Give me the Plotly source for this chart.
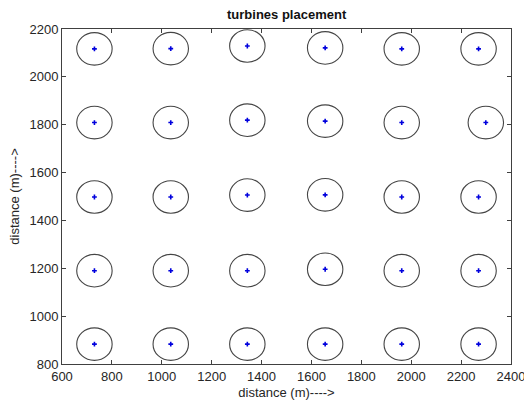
import plotly.graph_objects as go

# Turbine coordinates (m), listed row by row from top to bottom
turbine_x = [
    730, 1036, 1343, 1655, 1962, 2270,
    730, 1036, 1343, 1655, 1962, 2299,
    730, 1036, 1343, 1655, 1962, 2270,
    730, 1036, 1343, 1655, 1962, 2270,
    730, 1036, 1343, 1655, 1962, 2270,
]
turbine_y = [
    2117, 2118, 2129, 2121, 2117, 2117,
    1809, 1809, 1819, 1815, 1809, 1809,
    1498, 1498, 1506, 1507, 1498, 1498,
    1190, 1190, 1190, 1196, 1190, 1190,
    883, 883, 883, 883, 883, 883,
]
x_ticks = [600, 800, 1000, 1200, 1400, 1600, 1800, 2000, 2200, 2400]
y_ticks = [800, 1000, 1200, 1400, 1600, 1800, 2000, 2200]

# Half-width / half-height of the wake circle drawn around each turbine (m)
RX, RY = 71, 68

FONT = "Liberation Sans, Arial, sans-serif"
TXT = "#262626"
AX = "#404040"

fig = go.Figure()
fig.add_trace(go.Scatter(
    x=turbine_x, y=turbine_y, mode="markers",
    marker=dict(symbol="cross", size=4, color="#0000dd", line=dict(width=0)),
    showlegend=False, hoverinfo="x+y",
))

for cx, cy in zip(turbine_x, turbine_y):
    fig.add_shape(type="circle", xref="x", yref="y",
                  x0=cx - RX, x1=cx + RX, y0=cy - RY, y1=cy + RY,
                  line=dict(color="#454545", width=1.1), layer="above")

axis_common = dict(
    showgrid=False, zeroline=False, showline=True, linecolor=AX, linewidth=1,
    mirror="allticks", ticks="inside", ticklen=4, tickcolor=AX, tickwidth=1,
    ticklabeloverflow="allow", automargin=False,
    tickfont=dict(family=FONT, size=13, color=TXT),
)

fig.update_layout(
    width=524, height=402,
    margin=dict(l=62, r=13, t=29, b=38),
    paper_bgcolor="white", plot_bgcolor="white",
    title=dict(text="<b>turbines placement</b>", x=0.547, xanchor="center",
               y=0.965, yanchor="middle",
               font=dict(family=FONT, size=13, color="#111111")),
    xaxis=dict(range=[600, 2400], tickvals=x_ticks, **axis_common,
               title=dict(text="distance (m)---->", standoff=5,
                          font=dict(family=FONT, size=13, color=TXT))),
    yaxis=dict(range=[800, 2200], tickvals=y_ticks, **axis_common,
               title=dict(text="distance (m)---->", standoff=6,
                          font=dict(family=FONT, size=13, color=TXT))),
)

fig.write_html("out.html")
